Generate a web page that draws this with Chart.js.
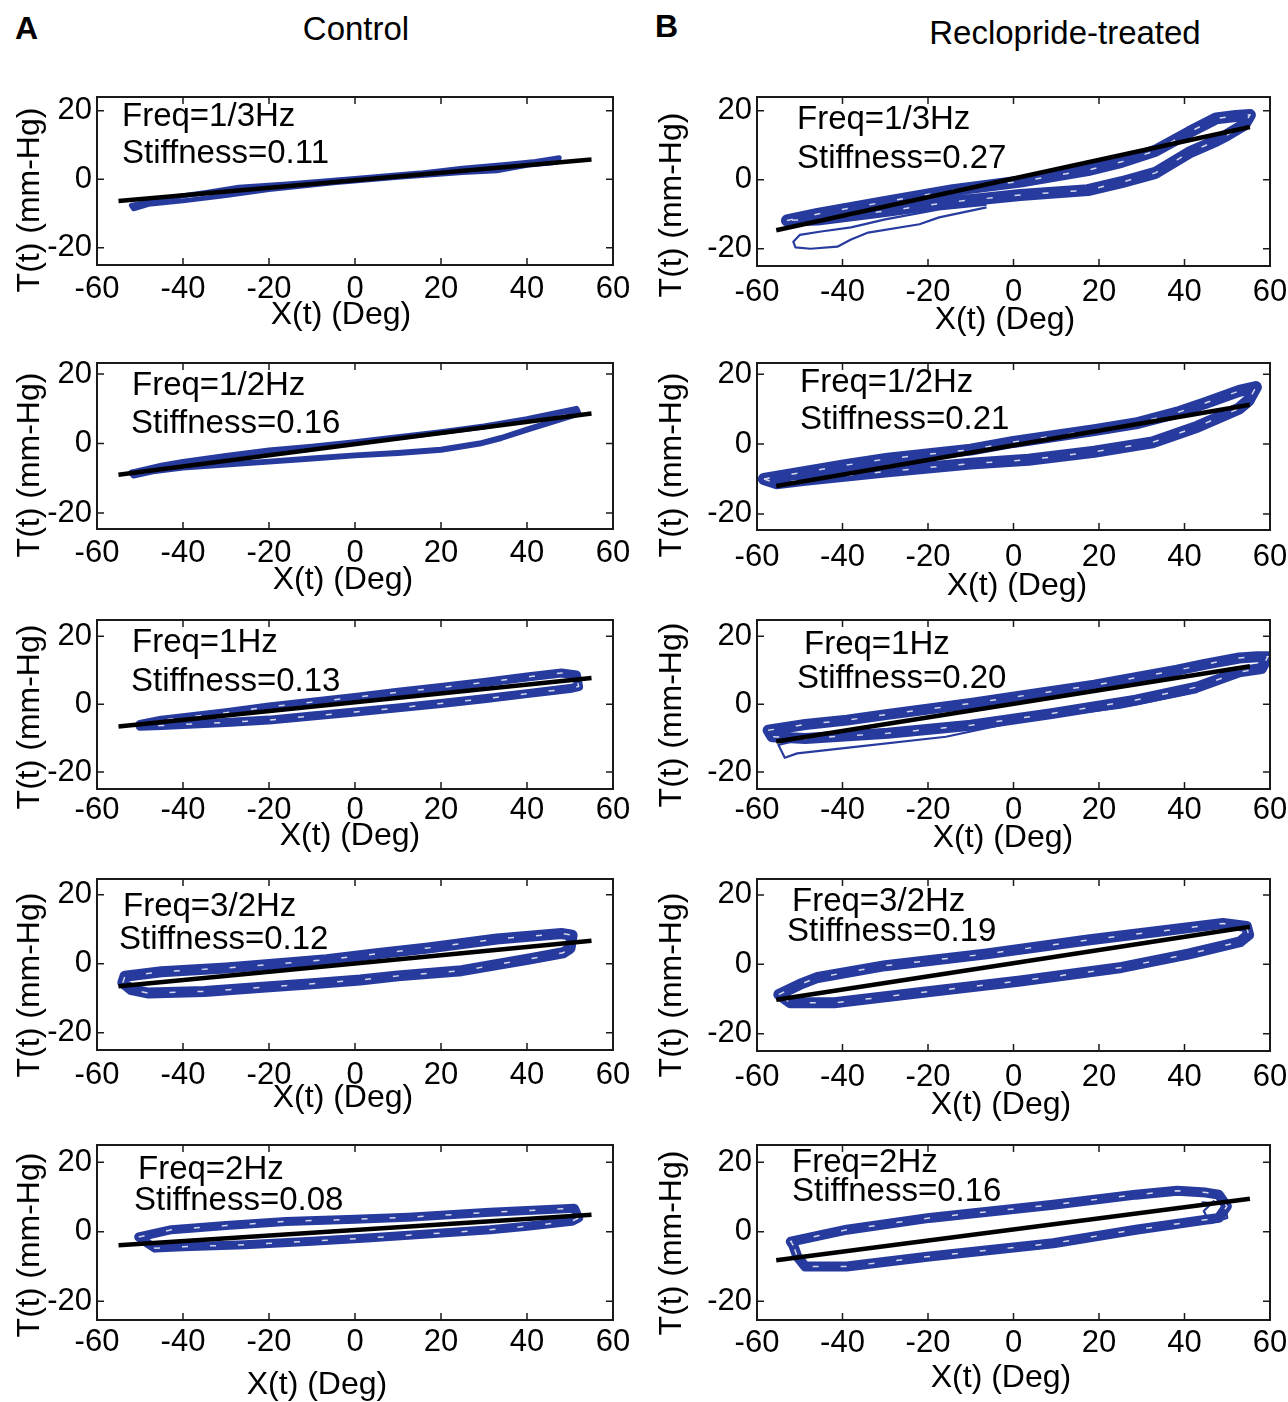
<!DOCTYPE html>
<html>
<head>
<meta charset="utf-8">
<title>Stiffness loops</title>
<script src="https://cdn.jsdelivr.net/npm/chart.js@4.4.0/dist/chart.umd.min.js"></script>
<style>
  html, body { margin: 0; padding: 0; background: #fff; overflow: hidden; }
  body { width: 1288px; height: 1402px; position: relative; font-family: 'Liberation Sans', Arial, sans-serif; }
  canvas { position: absolute; }
  .label { position: absolute; color: #000; white-space: nowrap; }
</style>
</head>
<body>
<div class="label" style="left:15px;top:12px;font:bold 32px/32px 'Liberation Sans',Arial,sans-serif;">A</div>
<div class="label" style="left:655px;top:10px;font:bold 32px/32px 'Liberation Sans',Arial,sans-serif;">B</div>
<div class="label" style="left:206px;width:300px;text-align:center;top:12px;font:33px/33px 'Liberation Sans',Arial,sans-serif;">Control</div>
<div class="label" style="left:865px;width:400px;text-align:center;top:16px;font:33px/33px 'Liberation Sans',Arial,sans-serif;">Reclopride-treated</div>
<script>
// Drive frequencies and fitted stiffness (slope of the black line)
const freqLabels = ['1/3', '1/2', '1', '3/2', '2'];
const stiffControl = [0.11, 0.16, 0.13, 0.12, 0.08];
const stiffTreated = [0.27, 0.21, 0.20, 0.19, 0.16];
const offsetControl = [-0.3, -0.15, 0.55, 0.1, 0.5];
const offsetTreated = [0.35, -0.35, 0.1, 0.3, 0.7];
const fitSpanControl = [-55, 55];
const fitSpanTreated = [-55.5, 55.3];

const xTicks = [-60, -40, -20, 0, 20, 40, 60];
const yTicks = [-20, 0, 20];
const yMinByRow = [-25, -24.6, -25, -25, -25.4];
const yMaxByRow = [24, 23.2, 24.8, 24.6, 25];

// T(t) vs X(t) loops: upper branch left to right, lower branch back
const loopA1 = [[-52,-7.6],[-45,-5.7],[-35,-3.9],[-27,-2.3],[-15,-1.3],[0,0.2],[15,1.8],[25,3.2],[35,4.3],[42,5.2],[47.5,6.3],
  [47,5.0],[40,4.1],[33,2.5],[25,2.0],[10,0.6],[-5,-1.0],[-20,-3.0],[-30,-4.7],[-40,-6.3],[-48,-7.3],[-51.5,-8.6],[-52,-7.6]];
const loopA2 = [[-52,-8.4],[-45,-6.4],[-40,-5.3],[-30,-3.6],[-20,-2.0],[-10,-0.9],[0,0.4],[10,1.8],[20,3.3],[30,4.9],[40,7.0],[47,8.8],[51.5,10.0],
  [52,8.6],[46,6.3],[40,4.0],[34,1.6],[29,0.0],[20,-1.8],[10,-2.7],[0,-3.4],[-10,-4.3],[-20,-5.2],[-30,-6.0],[-40,-6.9],[-47,-8.0],[-51.5,-9.2],[-52,-8.4]];
const loopA3 = [[-50,-6.0],[-45,-4.7],[-30,-2.5],[-20,-0.8],[-10,0.6],[0,2.0],[10,3.5],[20,4.9],[30,6.4],[40,8.0],[48,9.2],[51.5,8.6],
  [52,5.2],[50,4.6],[40,3.1],[30,1.6],[20,0.2],[10,-1.1],[0,-2.3],[-10,-3.5],[-20,-4.7],[-30,-5.4],[-45,-6.3],[-50,-6.5],[-50,-6.0]];
const loopA4 = [[-54,-5.5],[-53.5,-3.6],[-45,-2.3],[-30,-1.2],[-15,0.3],[-6.6,1.2],[5,2.9],[17,4.6],[33,7.2],[48,8.8],[50.5,8.3],
  [50,4.5],[48.4,3.2],[40.5,1.4],[24.8,-2.0],[10,-3.5],[1.2,-4.7],[-10,-5.8],[-22.3,-6.9],[-35,-8.0],[-48,-8.5],[-52,-7.5],[-54,-5.5]];
const loopA5 = [[-50.3,-1.5],[-42.7,0.6],[-30,1.8],[-16.1,3.0],[0,3.6],[12.4,4.2],[31.4,5.6],[45,6.4],[51,6.8],
  [52,4.0],[50.4,3.0],[40,1.6],[31.4,0.6],[15,-0.8],[2.8,-1.8],[-10,-2.7],[-25.6,-3.7],[-40,-4.3],[-46.5,-4.7],[-48,-3.5],[-50.3,-1.5]];

const loopB1 = [[-53,-11.8],[-45.8,-9.9],[-30,-6.4],[-14.2,-3.0],[1.6,-0.5],[17.4,2.8],[25.3,5.2],[33.2,8.4],[41.1,13.8],[47.4,17.8],[52,18.5],[55.3,18.8],
  [54,16.0],[50,13.0],[47.4,11.3],[41.1,7.9],[33.2,2.0],[25.3,-0.7],[17.4,-3.0],[1.6,-4.4],[-14.2,-6.4],[-30,-9.1],[-45.8,-11.5],[-53,-11.8]];
const loopB2 = [[-58.4,-10.0],[-48.7,-8.0],[-39,-6.0],[-29.4,-4.2],[-10,-1.6],[0,0.6],[18.9,4.0],[28.6,5.9],[38.3,9.0],[45,11.8],[52.8,15.2],[56.7,16.3],
  [55,12.5],[52.8,10.2],[43.1,5.0],[32.5,0.5],[18.9,-2.2],[3.5,-4.5],[-10,-5.6],[-29.4,-7.8],[-48.7,-10.2],[-55.5,-11.2],[-58.4,-10.0]];
const loopB3 = [[-57.4,-7.7],[-48.7,-6.0],[-39,-4.7],[-29.4,-3.0],[-10,0.2],[5,3.0],[18.9,5.6],[28.6,7.8],[38.3,10.0],[45,11.8],[52.8,13.6],[57,14.0],[59.5,14.0],
  [58,10.5],[52.8,9.5],[43.1,5.1],[28.6,1.2],[9.3,-2.7],[-10,-6.2],[-29.4,-8.6],[-48.7,-10.1],[-56.5,-9.6],[-57.4,-7.7]];
const loopB4 = [[-54.9,-8.7],[-50,-5.8],[-45.8,-3.8],[-30,-0.4],[-6.3,3.0],[17.4,7.0],[33.2,9.4],[49,11.8],[54.5,10.9],[55,8.5],
  [53,6.5],[41.1,3.0],[25.3,-0.9],[1.6,-4.8],[-22.1,-8.2],[-41.9,-11.1],[-52.2,-11.1],[-54.9,-8.7]];
const loopB5 = [[-51.5,-3.9],[-52.1,-2.8],[-39,0.6],[-19.7,4.0],[9.3,7.8],[28.6,10.7],[38.3,11.8],[45,11.3],[48,10.7],[49.9,7.3],
  [48,4.0],[28.6,0.6],[9.3,-3.3],[-19.7,-7.1],[-39,-10.0],[-48.7,-10.0],[-50.6,-7.1],[-51.5,-3.9]];

// stray single cycles drawn with a thin pen
const extraB1 = [[-6.3,-7.2],[-17.4,-8.6],[-30,-11.5],[-38,-13.8],[-45,-15.0],[-50,-16.0],[-51.5,-18.0],[-51,-19.6],[-47.5,-20.0],
  [-41.2,-19.4],[-38,-17.3],[-34,-15.3],[-22,-12.9],[-17.4,-10.9],[-6.3,-8.0]];
const extraB3 = [[43.1,3.6],[25,-1.0],[2.5,-4.7],[-15.8,-9.6],[-37,-12.6],[-50.6,-14.5],[-53.5,-15.8],[-55,-12],[-50,-10.5]];
const extraB5 = [[44,8.5],[49.5,8.0],[50,4.0],[46,2.5],[44.5,6.0],[47,9.0]];

const loopsControl = [loopA1, loopA2, loopA3, loopA4, loopA5];
const loopsTreated = [loopB1, loopB2, loopB3, loopB4, loopB5];
const extrasTreated = [extraB1, null, extraB3, null, extraB5];

// page geometry (pixels) of every panel
const penA = [5, 6, 9, 11, 9];
const penB = [12, 12, 11, 11, 10];
const colA = { canvasLeft: 0, canvasWidth: 640, left: 97, right: 613 };
const colB = { canvasLeft: 640, canvasWidth: 680, left: 757, right: 1270 };
const layoutA = [
  { top: 97,   bottom: 265,  tickPad: 6, freq: [122, 117],  stiff: [122, 154],  xTitle: [341, 315],  yTitle: [30, 200] },
  { top: 363,  bottom: 529,  tickPad: 6, freq: [132, 386],  stiff: [131, 424],  xTitle: [343, 580],  yTitle: [30, 465] },
  { top: 620,  bottom: 789,  tickPad: 3, freq: [132, 643],  stiff: [131, 682],  xTitle: [350, 836],  yTitle: [30, 717] },
  { top: 879,  bottom: 1050, tickPad: 7, freq: [123, 907],  stiff: [119, 940],  xTitle: [343, 1098], yTitle: [30, 985] },
  { top: 1145, bottom: 1320, tickPad: 4, freq: [138, 1170], stiff: [134, 1201], xTitle: [317, 1385], yTitle: [30, 1245] }
];
const layoutB = [
  { top: 97,   bottom: 266,  tickPad: 8, freq: [797, 120],  stiff: [797, 159],  xTitle: [1005, 320],  yTitle: [672, 205] },
  { top: 363,  bottom: 530,  tickPad: 9, freq: [800, 383],  stiff: [800, 420],  xTitle: [1017, 586],  yTitle: [672, 465] },
  { top: 620,  bottom: 789,  tickPad: 3, freq: [804, 645],  stiff: [797, 679],  xTitle: [1003, 838],  yTitle: [672, 715] },
  { top: 879,  bottom: 1051, tickPad: 8, freq: [792, 902],  stiff: [787, 932],  xTitle: [1001, 1105], yTitle: [672, 985] },
  { top: 1145, bottom: 1320, tickPad: 5, freq: [792, 1163], stiff: [792, 1192], xTitle: [1001, 1378], yTitle: [672, 1243] }
];

const BLUE = '#273b9e';
const FONT = "'Liberation Sans', Arial, sans-serif";
Chart.defaults.font.family = FONT;
Chart.defaults.color = '#000';

const toPts = arr => arr.map(([x, y]) => ({ x, y }));

// frame, inward ticks on all sides, panel annotation and axis titles
function decor(ox, oy, lay, freqText, stiffText) {
  return {
    id: 'decor',
    afterDatasetsDraw(chart) {
      const { ctx, chartArea: a, scales: { x, y } } = chart;
      ctx.save();
      ctx.strokeStyle = '#1a1a1a';
      ctx.lineWidth = 2;
      ctx.strokeRect(a.left, a.top, a.right - a.left, a.bottom - a.top);
      ctx.lineWidth = 1.5;
      ctx.beginPath();
      x.ticks.forEach(t => {
        const px = x.getPixelForValue(t.value);
        ctx.moveTo(px, a.bottom); ctx.lineTo(px, a.bottom - 7);
        ctx.moveTo(px, a.top); ctx.lineTo(px, a.top + 7);
      });
      y.ticks.forEach(t => {
        const py = y.getPixelForValue(t.value);
        ctx.moveTo(a.left, py); ctx.lineTo(a.left + 7, py);
        ctx.moveTo(a.right, py); ctx.lineTo(a.right - 7, py);
      });
      ctx.stroke();

      ctx.fillStyle = '#000';
      ctx.textBaseline = 'middle';
      ctx.textAlign = 'left';
      ctx.font = '33px ' + FONT;
      ctx.fillText(freqText, lay.freq[0] - ox, lay.freq[1] - oy);
      ctx.fillText(stiffText, lay.stiff[0] - ox, lay.stiff[1] - oy);

      ctx.font = '32px ' + FONT;
      ctx.textAlign = 'center';
      ctx.fillText('X(t) (Deg)', lay.xTitle[0] - ox, lay.xTitle[1] - oy);
      ctx.translate(lay.yTitle[0] - ox, lay.yTitle[1] - oy);
      ctx.rotate(-Math.PI / 2);
      ctx.fillText('T(t) (mm-Hg)', 0, 0);
      ctx.restore();
    }
  };
}

function makePanel(col, lay, row, loop, extra, pen, stiff, offset, span) {
  const padTop = 26;
  const cy = lay.top - padTop;
  const ch = lay.xTitle[1] + 26 - cy;
  const canvas = document.createElement('canvas');
  canvas.width = col.canvasWidth;
  canvas.height = ch;
  canvas.style.left = col.canvasLeft + 'px';
  canvas.style.top = cy + 'px';
  document.body.appendChild(canvas);

  // Chart.js paints the first dataset on top, so the fit line comes first
  const fit = span.map(x => ({ x, y: stiff * x + offset }));
  const datasets = [{ data: fit, borderColor: '#000', borderWidth: 4.5 }];
  if (pen >= 9) {
    // sparse white gaps left between overlapping cycles
    datasets.push({ data: toPts(loop), borderColor: 'rgba(255,255,255,0.8)', borderWidth: 1.5, borderDash: [6, 22] });
  }
  if (extra) {
    datasets.push({ data: toPts(extra), borderColor: BLUE, borderWidth: 2.2, borderJoinStyle: 'round' });
  }
  datasets.push({
    data: toPts(loop), borderColor: BLUE, borderWidth: pen,
    borderJoinStyle: 'round', borderCapStyle: 'round'
  });
  datasets.forEach(d => { d.showLine = true; d.pointRadius = 0; d.tension = 0; d.clip = 0; });

  new Chart(canvas, {
    type: 'scatter',
    data: { datasets },
    options: {
      responsive: false,
      animation: false,
      events: [],
      layout: { padding: { top: padTop, right: col.canvasLeft + col.canvasWidth - col.right, left: 0, bottom: 0 } },
      plugins: { legend: { display: false }, tooltip: { enabled: false } },
      scales: {
        x: {
          type: 'linear', min: -60, max: 60,
          afterBuildTicks: s => { s.ticks = xTicks.map(v => ({ value: v })); },
          afterFit: s => { s.height = cy + ch - lay.bottom; },
          grid: { display: false, drawTicks: false },
          border: { display: false },
          ticks: { padding: lay.tickPad, font: { size: 31 }, maxRotation: 0, minRotation: 0, autoSkip: false }
        },
        y: {
          type: 'linear', min: yMinByRow[row], max: yMaxByRow[row],
          afterBuildTicks: s => { s.ticks = yTicks.map(v => ({ value: v })); },
          afterFit: s => { s.width = col.left - col.canvasLeft; },
          grid: { display: false, drawTicks: false },
          border: { display: false },
          ticks: { padding: 5, font: { size: 31 } }
        }
      }
    },
    plugins: [decor(col.canvasLeft, cy, lay, 'Freq=' + freqLabels[row] + 'Hz', 'Stiffness=' + stiff.toFixed(2))]
  });
}

for (let r = 0; r < 5; r++) {
  makePanel(colA, layoutA[r], r, loopsControl[r], null, penA[r], stiffControl[r], offsetControl[r], fitSpanControl);
  makePanel(colB, layoutB[r], r, loopsTreated[r], extrasTreated[r], penB[r], stiffTreated[r], offsetTreated[r], fitSpanTreated);
}
</script>
</body>
</html>
